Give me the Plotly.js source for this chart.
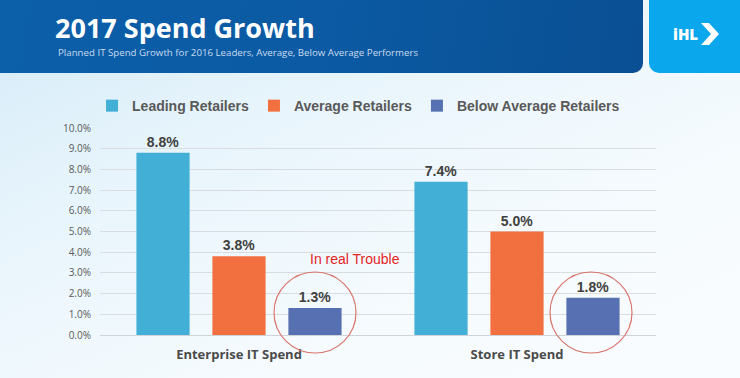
<!DOCTYPE html>
<html>
<head>
<meta charset="utf-8">
<script src="https://cdn.plot.ly/plotly-3.0.1.min.js"></script>
<style>
  html, body { margin: 0; padding: 0; width: 740px; height: 378px; overflow: hidden; }
  body { position: relative; background: linear-gradient(155deg, #d4ebf8 0%, #e9f5fc 35%, #f6fbfe 70%, #f9fcfe 100%); }
  #hdr { position: absolute; left: 0; top: 0; width: 643px; height: 73px;
         background: linear-gradient(100deg, #0c5fa9 0%, #0b5aa3 50%, #0a4f93 100%);
         border-bottom-right-radius: 10px; }
  #logo { position: absolute; left: 649px; top: 0; width: 91px; height: 73px; background: #0aa7ec;
          border-bottom-left-radius: 10px; }
  #chart { position: absolute; left: 0; top: 0; width: 740px; height: 378px; }
</style>
</head>
<body>
<div id="hdr"></div>
<div id="logo">
  <svg width="91" height="73" viewBox="0 0 91 73">
    <text x="24" y="40" font-family="Open Sans, DejaVu Sans, sans-serif" font-weight="800" font-size="15" fill="#ffffff">iHL</text>
    <path d="M52 23 L60 23 L70 34 L60 45 L52 45 L62 34 Z" fill="#ffffff"/>
  </svg>
</div>
<div id="chart"></div>
<script>
const categories = ["Enterprise IT Spend", "Store IT Spend"];
const seriesNames = ["Leading Retailers", "Average Retailers", "Below Average Retailers"];
const leading = [8.8, 7.4];
const average = [3.8, 5.0];
const belowAverage = [1.3, 1.8];
const tickValues = [0, 1, 2, 3, 4, 5, 6, 7, 8, 9, 10];
const titleText = "2017 Spend Growth";
const subtitleText = "Planned IT Spend Growth for 2016 Leaders, Average, Below Average Performers";
const calloutText = "In real Trouble";

const colors = ["#42b0d6", "#f27040", "#5670b2"];
const values = [leading, average, belowAverage];

const traces = values.map((v, i) => ({
  type: "bar",
  name: seriesNames[i],
  x: categories,
  y: v,
  marker: { color: colors[i] },
  texttemplate: "%{y:.1f}%",
  textposition: "outside",
  cliponaxis: false,
  textfont: { family: "Liberation Sans, Arial, sans-serif", size: 14, color: "#404040", weight: "bold" },
  hoverinfo: "skip"
}));

const layout = {
  width: 740, height: 378,
  paper_bgcolor: "rgba(0,0,0,0)",
  plot_bgcolor: "rgba(0,0,0,0)",
  margin: { l: 100, r: 84, t: 128, b: 43 },
  barmode: "group",
  bargap: 0.18,
  bargroupgap: 0.30,
  showlegend: true,
  title: {
    text: titleText,
    xref: "container", yref: "container",
    x: 55 / 740, xanchor: "left",
    y: 1 - 29 / 378, yanchor: "middle",
    font: { family: "Open Sans, sans-serif", size: 27, color: "#ffffff", weight: "bold" }
  },
  legend: {
    orientation: "h",
    x: 0.465, xanchor: "center",
    y: 1.106, yanchor: "middle",
    font: { family: "Liberation Sans, Arial, sans-serif", size: 14, color: "#595959", weight: "bold" },
    itemwidth: 30,
    traceorder: "normal",
    bgcolor: "rgba(0,0,0,0)"
  },
  xaxis: {
    type: "category",
    tickfont: { family: "Open Sans, sans-serif", size: 13, color: "#4a4a4a", weight: "bold" },
    ticks: "",
    showline: false,
    ticklabelstandoff: 10
  },
  yaxis: {
    range: [0, 10],
    tickvals: tickValues,
    ticktext: tickValues.map(t => t.toFixed(1) + "%"),
    tickfont: { family: "Open Sans, sans-serif", size: 10, color: "#595959" },
    gridcolor: "#d9dde0",
    gridwidth: 1,
    zeroline: true,
    zerolinecolor: "#d0d4d8",
    zerolinewidth: 1,
    showline: false,
    ticks: "",
    ticklabelstandoff: 8,
    fixedrange: true
  },
  annotations: [
    {
      text: subtitleText,
      xref: "paper", yref: "paper",
      x: (56 - 100) / 556, xanchor: "left",
      y: (335 - 53) / 207, yanchor: "middle",
      showarrow: false,
      font: { family: "Open Sans, sans-serif", size: 9.7, color: "#c9dcef" }
    },
    {
      text: calloutText,
      xref: "paper", yref: "paper",
      x: (355 - 100) / 556, xanchor: "center",
      y: (335 - 259) / 207, yanchor: "middle",
      showarrow: false,
      font: { family: "Liberation Sans, Arial, sans-serif", size: 14, color: "#e3241f" }
    }
  ],
  shapes: [
    {
      type: "circle", xref: "paper", yref: "paper",
      x0: (274 - 100) / 556, x1: (356 - 100) / 556,
      y0: (335 - 353) / 207, y1: (335 - 272) / 207,
      line: { color: "#d9756b", width: 1.2 }
    },
    {
      type: "circle", xref: "paper", yref: "paper",
      x0: (550 - 100) / 556, x1: (632 - 100) / 556,
      y0: (335 - 353) / 207, y1: (335 - 272) / 207,
      line: { color: "#d9756b", width: 1.2 }
    }
  ]
};

Plotly.newPlot("chart", traces, layout, { displayModeBar: false, staticPlot: true });
</script>
</body>
</html>
